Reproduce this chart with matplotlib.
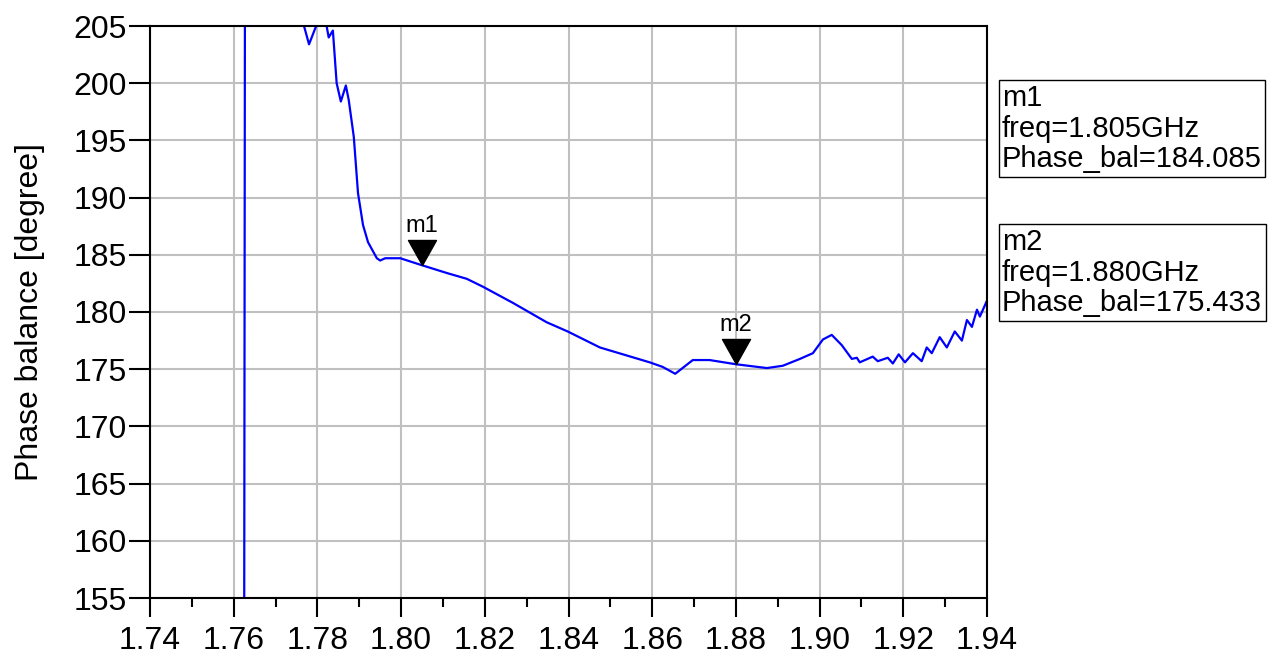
import matplotlib
matplotlib.use("Agg")
from matplotlib import pyplot as plt
from matplotlib.path import Path
from matplotlib.ticker import MultipleLocator

freq = [1.740, 1.7625, 1.7627, 1.770, 1.7762, 1.7768, 1.7780, 1.7797, 1.7805,
        1.7812, 1.7822, 1.7827, 1.7837, 1.7846, 1.7856, 1.7868, 1.7875, 1.7887,
        1.7897, 1.7909, 1.7921, 1.7942, 1.7950, 1.7962, 1.7998, 1.8050, 1.8110,
        1.8157, 1.8196, 1.8267, 1.8348, 1.8398, 1.8475, 1.8594, 1.8625, 1.8655,
        1.8697, 1.8737, 1.8800, 1.8874, 1.8912, 1.8953, 1.8984, 1.9008, 1.9029,
        1.9053, 1.9077, 1.9089, 1.9096, 1.9127, 1.9139, 1.9163, 1.9175, 1.9189,
        1.9204, 1.9223, 1.9244, 1.9256, 1.9268, 1.9287, 1.9304, 1.9323, 1.9340,
        1.9352, 1.9364, 1.9376, 1.9383, 1.9400]
phase_bal = [150.0, 150.0, 212.0, 212.0, 207.0, 205.0, 203.4, 205.0, 205.6,
             206.0, 205.0, 204.0, 204.6, 200.0, 198.4, 199.8, 198.5, 195.3,
             190.4, 187.6, 186.1, 184.7, 184.5, 184.7, 184.7, 184.085, 183.4,
             182.9, 182.2, 180.8, 179.1, 178.3, 176.9, 175.6, 175.2, 174.6,
             175.8, 175.8, 175.433, 175.1, 175.3, 175.9, 176.4, 177.6, 178.0,
             177.1, 175.9, 176.0, 175.6, 176.1, 175.7, 176.0, 175.5, 176.3,
             175.6, 176.4, 175.7, 176.9, 176.4, 177.8, 176.9, 178.3, 177.5,
             179.3, 178.7, 180.2, 179.6, 181.0]

marker_names = ["m1", "m2"]
marker_freq = [1.805, 1.880]
marker_val = [184.085, 175.433]

x_ticks = [1.74, 1.76, 1.78, 1.80, 1.82, 1.84, 1.86, 1.88, 1.90, 1.92, 1.94]
y_ticks = [155, 160, 165, 170, 175, 180, 185, 190, 195, 200, 205]

font = ["Liberation Sans", "DejaVu Sans"]

W, H = 1279, 657
fig = plt.figure(figsize=(W / 100, H / 100), dpi=100)
ax = fig.add_axes([150 / W, (H - 598) / H, (987 - 150) / W, (598 - 26) / H])

ax.plot(freq, phase_bal, color="#0000ff", linewidth=1.6, clip_on=True)

# triangle marker with its tip on the data point
tri = Path([(-0.56, 1.0), (0.56, 1.0), (0.0, 0.0), (-0.56, 1.0)],
           [Path.MOVETO, Path.LINETO, Path.LINETO, Path.CLOSEPOLY])
for name, fx, fy in zip(marker_names, marker_freq, marker_val):
    ax.plot([fx], [fy], marker=tri, markersize=36, color="black",
            linestyle="none", zorder=5)
    ax.annotate(name, (fx, fy), xytext=(0, 28), textcoords="offset points",
                ha="center", va="center", fontsize=17, family=font)

ax.set_xlim(1.74, 1.94)
ax.set_ylim(155, 205)
ax.set_xticks(x_ticks)
ax.set_xticklabels([f"{t:.2f}" for t in x_ticks])
ax.xaxis.set_minor_locator(MultipleLocator(0.01))
ax.set_yticks(y_ticks)
ax.set_yticklabels([str(t) for t in y_ticks])

ax.grid(True, which="major", color="#c0c0c0", linewidth=1.5)
ax.set_axisbelow(True)
for s in ax.spines.values():
    s.set_linewidth(1.5)
    s.set_color("black")

ax.tick_params(axis="x", which="major", direction="out", length=14, width=1.5, pad=6)
ax.tick_params(axis="x", which="minor", direction="out", length=6.5, width=1.5)
ax.tick_params(axis="y", which="major", direction="out", length=15, width=1.5, pad=2)
for lbl in ax.get_xticklabels() + ax.get_yticklabels():
    lbl.set_family(font)
    lbl.set_fontsize(23)

ax.set_ylabel("Phase balance [degree]", fontsize=23, family=font, labelpad=20)

box_texts = [
    "m1\nfreq=1.805GHz\nPhase_bal=184.085",
    "m2\nfreq=1.880GHz\nPhase_bal=175.433",
]
box_tops = [84, 228]
for txt, top in zip(box_texts, box_tops):
    fig.text(1002 / W, 1 - top / H, txt, ha="left", va="top", fontsize=21,
             family=font, linespacing=1.12,
             bbox=dict(boxstyle="square,pad=0.12", facecolor="white",
                       edgecolor="black", linewidth=1))

fig.savefig("out.png", dpi=100)
